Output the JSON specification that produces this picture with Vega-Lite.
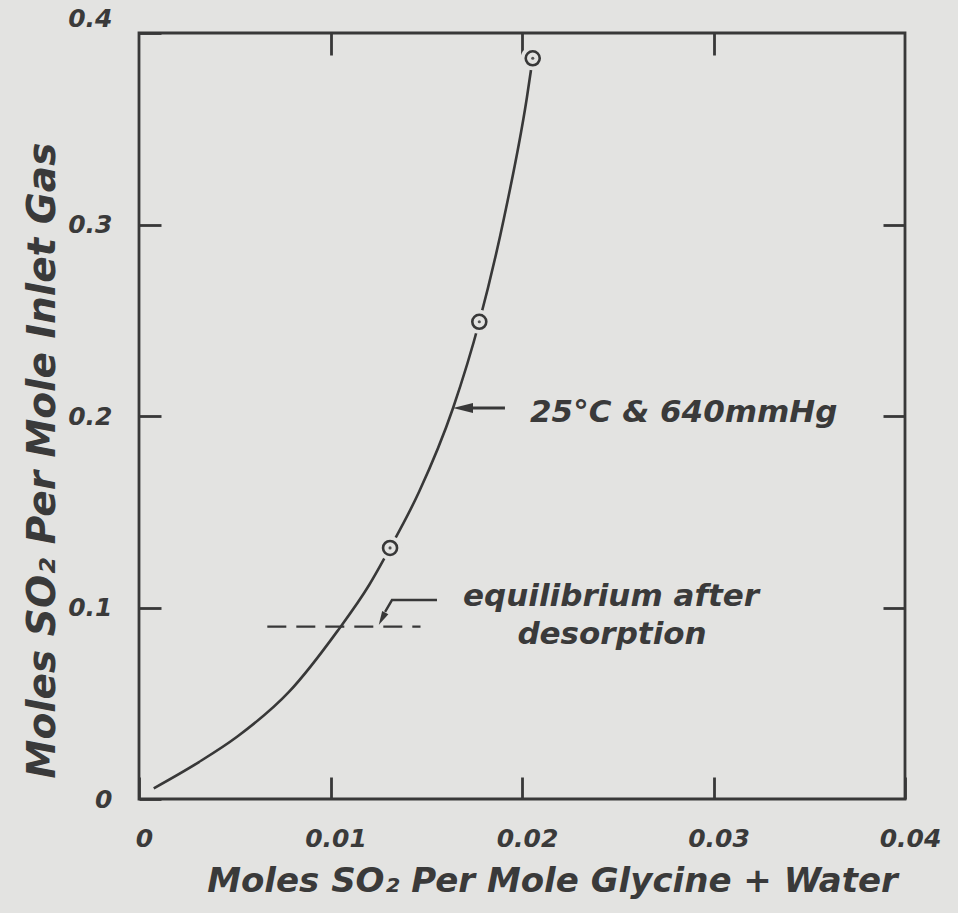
{
  "$schema": "https://vega.github.io/schema/vega-lite/v6.json",
  "width": 766,
  "height": 766,
  "autosize": {"type": "none"},
  "padding": {"left": 139, "top": 33, "right": 53, "bottom": 114},
  "background": "#e3e3e1",
  "config": {
    "view": {"stroke": "#383838", "strokeWidth": 2.8},
    "axis": {
      "labelFont": "DejaVu Sans",
      "labelFontStyle": "italic",
      "labelFontWeight": "bold",
      "labelFontSize": 25,
      "labelColor": "#3a3a3a",
      "titleFont": "DejaVu Sans",
      "titleFontStyle": "italic",
      "titleFontWeight": "bold",
      "titleFontSize": 34,
      "titleColor": "#3a3a3a",
      "tickColor": "#383838",
      "tickWidth": 2.8,
      "domain": false,
      "grid": false
    }
  },
  "datasets": {
    "curve": [
      {"x": 0.00077, "y": 0.0056},
      {"x": 0.00313, "y": 0.0193},
      {"x": 0.00512, "y": 0.0325},
      {"x": 0.00783, "y": 0.0559},
      {"x": 0.01034, "y": 0.0874},
      {"x": 0.01201, "y": 0.1116},
      {"x": 0.01311, "y": 0.1311},
      {"x": 0.01462, "y": 0.1603},
      {"x": 0.01640, "y": 0.2042},
      {"x": 0.01777, "y": 0.2492},
      {"x": 0.01906, "y": 0.3034},
      {"x": 0.02025, "y": 0.3659},
      {"x": 0.02056, "y": 0.3868}
    ],
    "points": [
      {"x": 0.01311, "y": 0.1311},
      {"x": 0.01777, "y": 0.2492},
      {"x": 0.02056, "y": 0.3868}
    ],
    "dashed": [
      {"x": 0.0067, "y": 0.0900},
      {"x": 0.0147, "y": 0.0900}
    ],
    "leader": [
      {"x": 0.01556, "y": 0.1039},
      {"x": 0.01321, "y": 0.1039},
      {"x": 0.01285, "y": 0.0977}
    ],
    "leaderHead": [
      {"x": 0.01269, "y": 0.0941}
    ],
    "tempArrow": [
      {"x": 0.01702, "y": 0.2042},
      {"x": 0.01911, "y": 0.2042}
    ],
    "tempHead": [
      {"x": 0.01692, "y": 0.2042}
    ],
    "labelLeft": [
      {"x": 0.02042, "y": 0.2016, "label": "25°C & 640mmHg"}
    ],
    "labelCenter": [
      {"x": 0.02465, "y": 0.1055, "label": "equilibrium after"},
      {"x": 0.02470, "y": 0.0857, "label": "desorption"}
    ]
  },
  "resolve": {"axis": {"x": "independent", "y": "independent"}},
  "layer": [
    {
      "encoding": {
        "x": {
          "field": "x", "type": "quantitative",
          "scale": {"domain": [0, 0.04], "nice": false, "zero": false},
          "axis": {
            "orient": "bottom",
            "values": [0, 0.01, 0.02, 0.03, 0.04],
            "labelExpr": "datum.value == 0 ? '0' : format(datum.value, '.2f')",
            "tickSize": -22,
            "labelPadding": 49,
            "labelOffset": 5,
            "labelFlush": false,
            "labelBaseline": "top",
            "title": "Moles SO₂ Per Mole Glycine + Water",
            "titleX": 413,
            "titleY": 82,
            "titleAlign": "center",
            "titleBaseline": "middle",
            "titleAnchor": null
          }
        },
        "y": {
          "field": "y", "type": "quantitative",
          "scale": {"domain": [0, 0.4], "nice": false, "zero": false},
          "axis": {
            "orient": "left",
            "values": [0, 0.1, 0.2, 0.3, 0.4],
            "labelExpr": "datum.value == 0 ? '0' : format(datum.value, '.1f')",
            "tickSize": -22,
            "labelPadding": 49,
            "labelFlush": false,
            "labelBaseline": "middle",
            "labelOffset": {"condition": {"test": "datum.value == 0.4", "value": -15}, "value": 0},
            "title": "Moles SO₂ Per Mole Inlet Gas",
            "titleFontSize": 39,
            "titleX": -97,
            "titleY": 427,
            "titleAngle": -90,
            "titleAlign": "center",
            "titleBaseline": "middle",
            "titleAnchor": null
          }
        }
      },
      "layer": [
        {
          "data": {"name": "curve"},
          "mark": {"type": "line", "interpolate": "monotone", "color": "#383838", "strokeWidth": 2.6}
        },
        {
          "data": {"name": "dashed"},
          "mark": {"type": "line", "color": "#383838", "strokeWidth": 2.4, "strokeDash": [19, 10]}
        },
        {
          "data": {"name": "leader"},
          "mark": {"type": "line", "color": "#383838", "strokeWidth": 2.4}
        },
        {
          "data": {"name": "leaderHead"},
          "mark": {"type": "point", "shape": "M 0 1 L -0.5 -1 L 0.5 -1 Z", "size": 196, "angle": 28, "filled": true, "color": "#383838", "opacity": 1}
        },
        {
          "data": {"name": "tempArrow"},
          "mark": {"type": "line", "color": "#383838", "strokeWidth": 3}
        },
        {
          "data": {"name": "tempHead"},
          "mark": {"type": "point", "shape": "M -1 0 L 1 -0.5 L 1 0.5 Z", "size": 400, "filled": true, "color": "#383838", "opacity": 1}
        },
        {
          "data": {"name": "points"},
          "mark": {"type": "point", "shape": "circle", "size": 576, "filled": true, "color": "#e3e3e1", "opacity": 1}
        },
        {
          "data": {"name": "points"},
          "mark": {"type": "point", "shape": "circle", "size": 196, "filled": false, "color": "#383838", "strokeWidth": 2.6, "opacity": 1}
        },
        {
          "data": {"name": "points"},
          "mark": {"type": "point", "shape": "circle", "size": 10, "filled": true, "color": "#555555", "opacity": 1}
        },
        {
          "data": {"name": "labelLeft"},
          "mark": {"type": "text", "align": "left", "baseline": "middle", "font": "DejaVu Sans", "fontStyle": "italic", "fontWeight": "bold", "fontSize": 31, "color": "#3a3a3a"},
          "encoding": {"text": {"field": "label"}}
        },
        {
          "data": {"name": "labelCenter"},
          "mark": {"type": "text", "align": "center", "baseline": "middle", "font": "DejaVu Sans", "fontStyle": "italic", "fontWeight": "bold", "fontSize": 31, "color": "#3a3a3a"},
          "encoding": {"text": {"field": "label"}}
        }
      ]
    },
    {
      "data": {"name": "points"},
      "mark": {"type": "point", "opacity": 0},
      "encoding": {
        "x": {
          "field": "x", "type": "quantitative",
          "scale": {"domain": [0, 0.04], "nice": false, "zero": false},
          "axis": {"orient": "top", "values": [0.01, 0.02, 0.03], "labels": false, "tickSize": -22, "title": null}
        },
        "y": {
          "field": "y", "type": "quantitative",
          "scale": {"domain": [0, 0.4], "nice": false, "zero": false},
          "axis": {"orient": "right", "values": [0.1, 0.2, 0.3], "labels": false, "tickSize": -22, "title": null}
        }
      }
    }
  ]
}
